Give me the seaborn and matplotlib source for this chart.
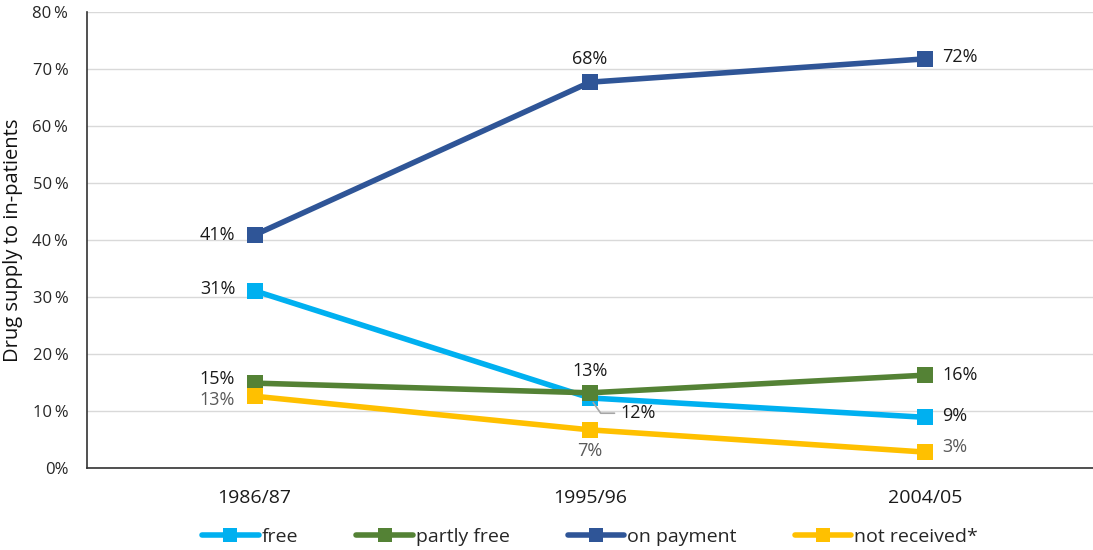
import numpy as np
import pandas as pd
import seaborn as sns
import matplotlib.pyplot as plt

years = ["1986/87", "1995/96", "2004/05"]
free = [31.1, 12.3, 8.9]
partly_free = [14.9, 13.2, 16.3]
on_payment = [40.9, 67.7, 71.8]
not_received = [12.6, 6.7, 2.8]
series_names = ["free", "partly free", "on payment", "not received*"]
label_free = ["31%", "12%", "9%"]
label_partly = ["15%", "13%", "16%"]
label_pay = ["41%", "68%", "72%"]
label_not = ["13%", "7%", "3%"]
yticks = [0, 10, 20, 30, 40, 50, 60, 70, 80]
ytick_labels = ["0%", "10\u2009%", "20\u2009%", "30\u2009%", "40\u2009%", "50\u2009%", "60\u2009%", "70\u2009%", "80\u2009%"]

colors = ["#00B0F0", "#548235", "#2F5597", "#FFC000"]

sns.set_theme(style="white")
plt.rcParams['font.family'] = ['Open Sans', 'DejaVu Sans']

rows = []
for name, vals in zip(series_names, [free, partly_free, on_payment, not_received]):
    for i, v in enumerate(vals):
        rows.append({"year": i, "value": v, "series": name})
df = pd.DataFrame(rows)

fig = plt.figure(figsize=(10.93, 5.5), dpi=100)
ax = fig.add_axes([0.0796, 0.149, 0.9204, 0.829])

sns.lineplot(data=df, x="year", y="value", hue="series", hue_order=series_names,
             palette=colors, marker="s", markersize=11, markeredgewidth=0,
             linewidth=4, dashes=False, ax=ax, legend=True)

ax.set_xlim(-0.5, 2.5)
ax.set_ylim(0, 80)
ax.set_yticks(yticks)
ax.set_yticklabels(ytick_labels, fontsize=12, color="#262626")
ax.set_xticks(range(3))
ax.set_xticklabels(years, fontsize=14, color="#1a1a1a")
ax.tick_params(axis='x', pad=15, length=0)
ax.tick_params(axis='y', pad=13.5, length=0)
ax.yaxis.grid(True, color="#D9D9D9", linewidth=1)
ax.set_axisbelow(True)
for s in ["top", "right"]:
    ax.spines[s].set_visible(False)
ax.spines["left"].set_color("#333333")
ax.spines["bottom"].set_color("#333333")
ax.spines["left"].set_linewidth(1.2)
ax.spines["bottom"].set_linewidth(1.2)
ax.set_xlabel("")
ax.set_ylabel("Drug supply to in-patients", fontsize=14.5, color="#111111")
ax.yaxis.set_label_coords(-0.064, 0.5)

dark = "#1a1a1a"
gray = "#595959"
fs = 13
# on payment
ax.annotate(label_pay[0], (0, on_payment[0]), xytext=(-14, 0), textcoords="offset points", ha="right", va="center", fontsize=fs, color=dark)
ax.annotate(label_pay[1], (1, on_payment[1]), xytext=(0, 10), textcoords="offset points", ha="center", va="bottom", fontsize=fs, color=dark)
ax.annotate(label_pay[2], (2, on_payment[2]), xytext=(12, 1), textcoords="offset points", ha="left", va="center", fontsize=fs, color=dark)
# free
ax.annotate(label_free[0], (0, free[0]), xytext=(-14, 1), textcoords="offset points", ha="right", va="center", fontsize=fs, color=dark)
ax.annotate(label_free[1], (1, free[1]), xytext=(22, -11), textcoords="offset points", ha="left", va="center", fontsize=fs, color=dark,
            arrowprops=dict(arrowstyle="-", color="#A6A6A6", lw=1.2, connectionstyle="angle,angleA=0,angleB=-55,rad=0", shrinkA=2, shrinkB=4))
ax.annotate(label_free[2], (2, free[2]), xytext=(12, 1), textcoords="offset points", ha="left", va="center", fontsize=fs, color=dark)
# partly free
ax.annotate(label_partly[0], (0, partly_free[0]), xytext=(-14, 3), textcoords="offset points", ha="right", va="center", fontsize=fs, color=dark)
ax.annotate(label_partly[1], (1, partly_free[1]), xytext=(0, 9), textcoords="offset points", ha="center", va="bottom", fontsize=fs, color=dark)
ax.annotate(label_partly[2], (2, partly_free[2]), xytext=(12, 0), textcoords="offset points", ha="left", va="center", fontsize=fs, color=dark)
# not received
ax.annotate(label_not[0], (0, not_received[0]), xytext=(-14, -3), textcoords="offset points", ha="right", va="center", fontsize=fs, color=gray)
ax.annotate(label_not[1], (1, not_received[1]), xytext=(0, -9), textcoords="offset points", ha="center", va="top", fontsize=fs, color=gray)
ax.annotate(label_not[2], (2, not_received[2]), xytext=(12, 4), textcoords="offset points", ha="left", va="center", fontsize=fs, color=gray)

handles, labels = ax.get_legend_handles_labels()
ax.legend_.remove()
fig.legend(handles, labels, loc="center", bbox_to_anchor=(0.54, 0.024), ncol=4, frameon=False,
           fontsize=14, handlelength=2.9, handletextpad=0.15, columnspacing=3.0, markerscale=0.9)

fig.savefig("out.png", dpi=100)
